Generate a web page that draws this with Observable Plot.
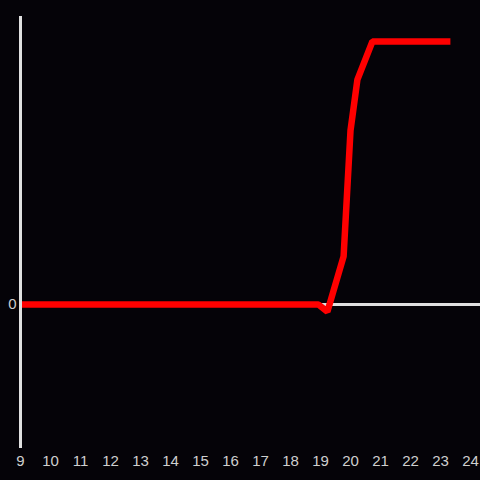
<!DOCTYPE html>
<html>
<head>
<meta charset="utf-8">
<script src="https://cdn.jsdelivr.net/npm/d3@7"></script>
<script src="https://cdn.jsdelivr.net/npm/@observablehq/plot@0.6"></script>
<style>
  html, body { margin: 0; padding: 0; background: #050308; }
  #chart { width: 480px; height: 480px; }
</style>
</head>
<body>
<div id="chart"></div>
<script>
const hours = [9, 18.93, 19.23, 19.77, 20.0, 20.23, 20.73, 23.33];
const values = [0, 0, -2.5, 16.7, 60.4, 78.1, 91.3, 91.3];
const xTicks = [9, 10, 11, 12, 13, 14, 15, 16, 17, 18, 19, 20, 21, 22, 23, 24];
const yTicks = [0];

const data = hours.map((h, i) => ({hour: h, value: values[i]}));

const chart = Plot.plot({
  width: 480,
  height: 480,
  marginLeft: 20,
  marginRight: 0,
  marginTop: 16,
  marginBottom: 32,
  style: {background: "#050308", color: "#cfcfcf", fontFamily: "Liberation Sans, Arial, sans-serif", fontSize: "15px"},
  x: {domain: [9, 24.333], ticks: xTicks, tickSize: 0, tickPadding: 6, label: null, tickFormat: d => String(d)},
  y: {domain: [-50, 100], ticks: yTicks, tickSize: 0, tickPadding: 4, label: null},
  marks: [
    Plot.ruleY([0], {stroke: "#e0e0e0", strokeWidth: 3}),
    Plot.line(data, {x: "hour", y: "value", stroke: "#ff0000", strokeWidth: 6.5, strokeLinejoin: "miter", strokeLinecap: "butt"}),
    Plot.ruleX([9], {stroke: "#e0e0e0", strokeWidth: 3}),
    Plot.axisX({ticks: xTicks, tickSize: 0, tickPadding: 7, tickFormat: d => String(d), label: null, fill: "#cfcfcf", fontSize: 15}),
    Plot.axisY({ticks: yTicks, tickSize: 0, tickPadding: 4, label: null, fill: "#cfcfcf", fontSize: 15})
  ]
});
document.getElementById("chart").appendChild(chart);
</script>
</body>
</html>
